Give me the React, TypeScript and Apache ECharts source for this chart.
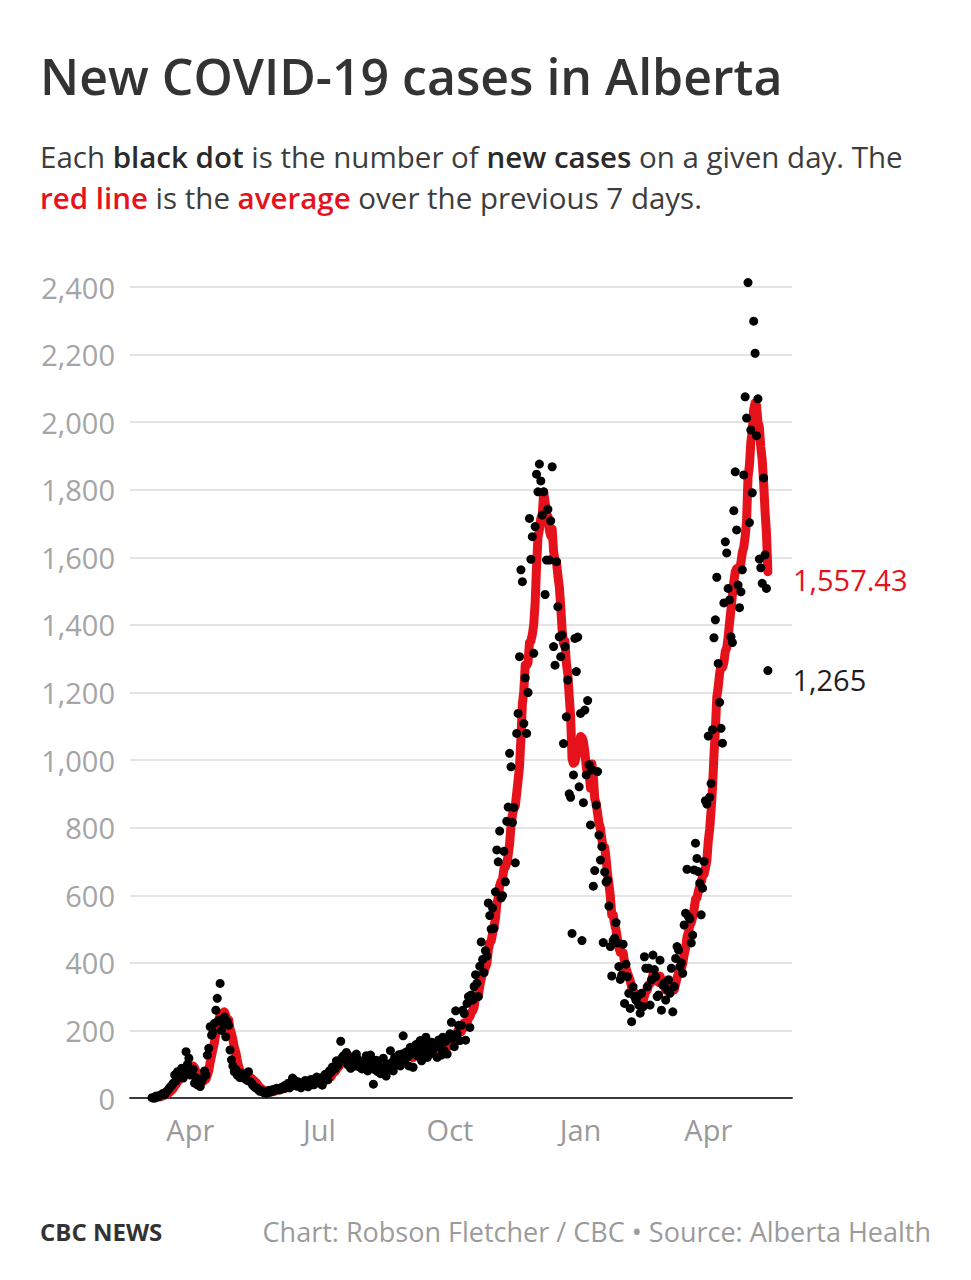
import React, { useEffect, useRef } from "react";
import * as echarts from "echarts";

// ---- DATA ----
const START_DATE = "2020-03-05";

// daily new cases, month by month (first month starts on Mar 5, 2020)
const mar2020 = [1, 0, 0, 6, 3, 5, 9, 11, 14, 10, 18, 22, 28, 33, 38, 44, 68, 51, 78, 60, 82, 88, 59, 80, 137, 100, 118];
const apr2020 = [68, 73, 85, 44, 60, 39, 55, 34, 50, 59, 80, 68, 127, 147, 211, 186, 195, 221, 260, 295, 230, 339, 200, 221, 240, 181, 226, 215, 142, 113];
const may2020 = [95, 78, 85, 68, 75, 60, 73, 65, 58, 63, 52, 78, 49, 45, 38, 34, 30, 29, 24, 20, 22, 19, 15, 18, 14, 22, 17, 24, 20, 26, 23];
const jun2020 = [29, 25, 24, 30, 33, 28, 38, 34, 44, 30, 37, 59, 54, 40, 35, 48, 42, 30, 38, 45, 52, 36, 33, 48, 55, 41, 39, 50, 62, 45];
const jul2020 = [45, 60, 38, 52, 70, 65, 54, 80, 75, 91, 93, 86, 110, 97, 106, 168, 120, 125, 115, 135, 98, 110, 88, 102, 120, 95, 130, 115, 92, 108, 86];
const aug2020 = [110, 95, 125, 80, 105, 127, 90, 41, 84, 112, 78, 96, 72, 88, 118, 92, 65, 100, 85, 140, 105, 80, 120, 98, 110, 128, 95, 130, 184, 112, 136];
const sep2020 = [120, 95, 150, 130, 91, 140, 158, 125, 145, 170, 110, 135, 160, 180, 120, 148, 130, 165, 142, 158, 155, 120, 172, 150, 127, 180, 140, 168, 130, 175];
const oct2020 = [190, 224, 177, 152, 258, 190, 215, 170, 215, 260, 250, 171, 280, 300, 209, 305, 290, 330, 365, 340, 300, 390, 462, 410, 371, 436, 420, 577, 540, 500, 562];
const nov2020 = [502, 610, 734, 699, 790, 592, 599, 730, 640, 819, 861, 1020, 980, 815, 860, 696, 1079, 1138, 1306, 1563, 1528, 1108, 1243, 1079, 1200, 1715, 1594, 1661, 1316, 1691];
const dec2020 = [1846, 1794, 1876, 1826, 1725, 1794, 1490, 1592, 1742, 1592, 1708, 1868, 1336, 1281, 1587, 1454, 1365, 1306, 1370, 1049, 1336, 1128, 1237, 900, 890, 487, 956, 1360, 1262, 1364, 921];
const jan2021 = [1138, 466, 874, 1148, 956, 1176, 986, 808, 971, 627, 673, 867, 966, 778, 704, 744, 460, 669, 639, 645, 568, 448, 361, 466, 473, 519, 459, 389, 351, 364, 455];
const feb2021 = [280, 396, 359, 310, 265, 226, 329, 300, 290, 300, 275, 251, 310, 270, 418, 384, 329, 384, 275, 350, 423, 380, 359, 300, 305, 408, 260, 334];
const mar2021 = [340, 290, 320, 350, 310, 384, 255, 330, 413, 448, 438, 389, 400, 369, 512, 547, 677, 537, 530, 459, 482, 675, 754, 709, 670, 636, 542, 621, 700, 880, 870];
const apr2021 = [1071, 890, 931, 1090, 1362, 1415, 1541, 1286, 1171, 1094, 1050, 1465, 1646, 1613, 1508, 1474, 1365, 1348, 1738, 1853, 1681, 1518, 1451, 1498, 1563, 1844, 2075, 2012, 2413, 1703];
const may2021 = [1977, 1791, 2299, 2204, 1960, 2069, 1595, 1569, 1523, 1835, 1607, 1508, 1265];

const dailyCases = [
  ...mar2020, ...apr2020, ...may2020, ...jun2020, ...jul2020, ...aug2020, ...sep2020,
  ...oct2020, ...nov2020, ...dec2020, ...jan2021, ...feb2021, ...mar2021, ...apr2021, ...may2021,
];

const AVG_WINDOW = 7;

const tickDates = ["2020-04-01", "2020-07-01", "2020-10-01", "2021-01-01", "2021-04-01"];
const tickLabels = ["Apr", "Jul", "Oct", "Jan", "Apr"];

const yMin = 0;
const yMax = 2400;
const yStep = 200;

// ---- helpers ----
const DAY_MS = 86400000;
const dayIndex = (iso: string) => Math.round((Date.parse(iso) - Date.parse(START_DATE)) / DAY_MS);
const tickDays = tickDates.map(dayIndex);

const RED = "#e5121b";
const FONT = '"Open Sans", "Noto Sans", sans-serif';

export default function App() {
  const ref = useRef<HTMLDivElement | null>(null);

  useEffect(() => {
    if (!ref.current) return;
    const chart = echarts.init(ref.current, undefined, { renderer: "svg" });

    const last = dailyCases.length - 1;
    const avgData: number[][] = [];
    for (let i = AVG_WINDOW - 1; i < dailyCases.length; i++) {
      let s = 0;
      for (let k = i - AVG_WINDOW + 1; k <= i; k++) s += dailyCases[k];
      avgData.push([i, s / AVG_WINDOW]);
    }
    const lastAvg = avgData[avgData.length - 1][1];

    const scatterData: any[] = dailyCases.map((v, i) => {
      if (i === last) {
        return {
          value: [i, v],
          label: {
            show: true,
            position: "right",
            distance: 20,
            offset: [0, 9],
            formatter: () => v.toLocaleString("en-US"),
            color: "#1e1e1e",
            fontSize: 29,
            fontFamily: FONT,
          },
        };
      }
      return [i, v];
    });

    const option: any = {
      animation: false,
      backgroundColor: "#ffffff",
      textStyle: { fontFamily: FONT },
      grid: { left: 130, right: 179, top: 287, bottom: 182, containLabel: false },
      xAxis: {
        type: "value",
        min: -15.5,
        max: 451,
        splitLine: { show: false },
        axisTick: { show: false },
        axisLine: { show: true, lineStyle: { color: "#3a3a3a", width: 2 } },
        axisLabel: {
          customValues: tickDays,
          formatter: (v: number) => {
            const k = tickDays.indexOf(Math.round(v));
            return k >= 0 ? tickLabels[k] : "";
          },
          color: "#9a9a9a",
          fontSize: 29,
          fontFamily: FONT,
          margin: 17,
        },
      },
      yAxis: {
        type: "value",
        min: yMin,
        max: yMax,
        interval: yStep,
        axisLine: { show: false },
        axisTick: { show: false },
        splitLine: { lineStyle: { color: "#e4e4e4", width: 2 } },
        axisLabel: {
          color: "#a5a5a5",
          fontSize: 29,
          fontFamily: FONT,
          margin: 15,
          formatter: (v: number) => v.toLocaleString("en-US"),
        },
      },
      series: [
        {
          type: "line",
          data: avgData,
          symbol: "none",
          showSymbol: false,
          silent: true,
          clip: false,
          z: 2,
          lineStyle: { color: RED, width: 9, cap: "round", join: "round" },
          endLabel: {
            show: true,
            distance: 25,
            offset: [0, 8],
            formatter: () =>
              lastAvg.toLocaleString("en-US", { minimumFractionDigits: 2, maximumFractionDigits: 2 }),
            color: RED,
            fontSize: 29,
            fontFamily: FONT,
          },
        },
        {
          type: "scatter",
          data: scatterData,
          symbol: "circle",
          symbolSize: 9,
          silent: true,
          clip: false,
          z: 3,
          itemStyle: { color: "#000000", opacity: 1 },
        },
      ],
      graphic: [
        {
          type: "text",
          x: 40,
          y: 76,
          style: {
            text: "New COVID-19 cases in Alberta",
            fill: "#333333",
            fontSize: 50,
            fontWeight: 600,
            fontFamily: FONT,
            textVerticalAlign: "middle",
          },
        },
        {
          type: "text",
          x: 40,
          y: 156,
          style: {
            text: "{n|Each }{b|black dot}{n| is the number of }{b|new cases}{n| on a given day. The}",
            textVerticalAlign: "middle",
            rich: {
              n: { fill: "#3d3d3d", fontSize: 29.5, fontFamily: FONT, fontWeight: 400 },
              b: { fill: "#2a2a2a", fontSize: 29.5, fontFamily: FONT, fontWeight: 600 },
            },
          },
        },
        {
          type: "text",
          x: 40,
          y: 197,
          style: {
            text: "{r|red line}{n| is the }{r|average}{n| over the previous 7 days.}",
            textVerticalAlign: "middle",
            rich: {
              n: { fill: "#3d3d3d", fontSize: 29.5, fontFamily: FONT, fontWeight: 400 },
              r: { fill: RED, fontSize: 29.5, fontFamily: FONT, fontWeight: 600 },
            },
          },
        },
        {
          type: "text",
          x: 40,
          y: 1231,
          style: {
            text: "CBC NEWS",
            fill: "#333333",
            fontSize: 24,
            fontWeight: 700,
            fontFamily: FONT,
            textVerticalAlign: "middle",
          },
        },
        {
          type: "text",
          x: 931,
          y: 1231,
          style: {
            text: "Chart: Robson Fletcher / CBC \u2022 Source: Alberta Health",
            fill: "#9b9b9b",
            fontSize: 27,
            fontFamily: FONT,
            textAlign: "right",
            textVerticalAlign: "middle",
          },
        },
      ],
    };

    chart.setOption(option);
    return () => chart.dispose();
  }, []);

  return (
    <div
      ref={ref}
      style={{ position: "absolute", left: 0, top: 0, width: 971, height: 1280, background: "#fff" }}
    />
  );
}
